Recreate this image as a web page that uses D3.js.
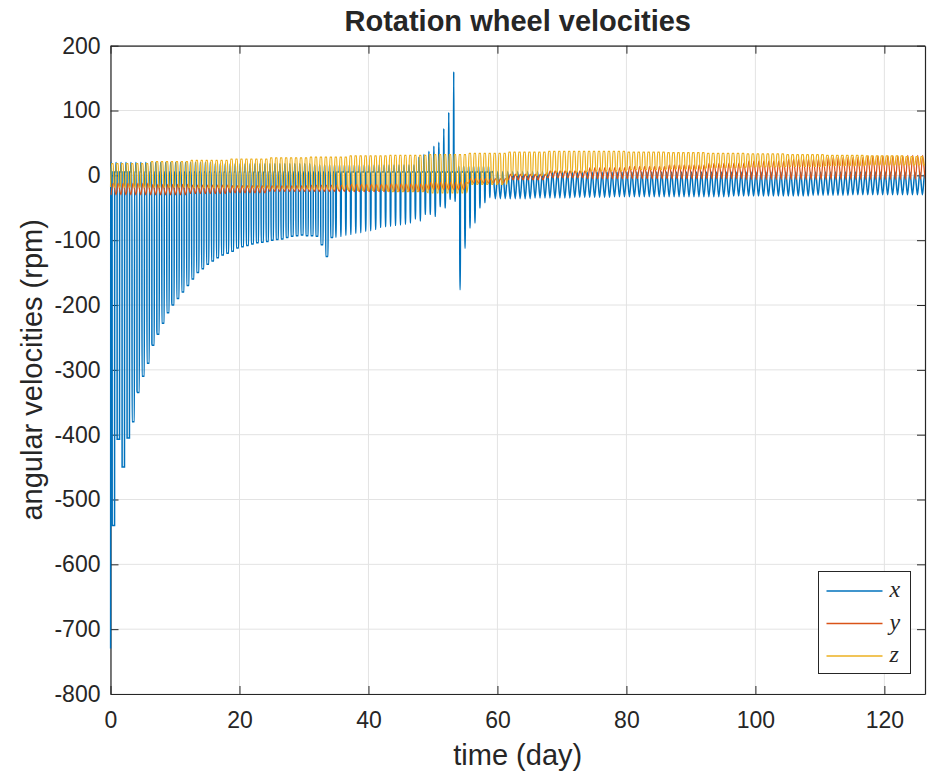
<!DOCTYPE html>
<html>
<head>
<meta charset="utf-8">
<script src="https://cdn.jsdelivr.net/npm/d3@7"></script>
<style>
  body { margin: 0; background: #fff; }
  svg { display: block; }
  text { font-family: "Liberation Sans", Arial, sans-serif; fill: #262626; }
</style>
</head>
<body>
<svg id="chart" width="928" height="776"></svg>
<script>
// ---- data ----
// the wheel speeds repeat once per orbit (about 0.77 day)
const cycleDays = 0.77;
const nCycles = 165;
const blockSize = 8;          // slow envelopes are given per 8 orbits
const xStart = -730;          // x speed at t = 0
const xBase = 5;              // x resting level between spikes

// x wheel: depth of the downward spike in each orbit (first 77 orbits)
const xSpikeMin = [
  -540, -407, -450, -405, -380, -335, -310, -290, -262, -245,
  -228, -212, -200, -190, -180, -170, -160, -150, -144, -137,
  -132, -127, -123, -120, -117, -112, -110, -108, -106, -104,
  -103, -102, -100, -99, -98, -96, -94, -93, -92, -93,
  -93, -94, -107, -125, -96, -95, -94, -92, -91, -89,
  -88, -86, -85, -83, -80, -79, -78, -77, -76, -75,
  -73, -67, -70, -60, -60, -63, -48, -50, -37, -40,
  -176, -112, -81, -73, -50, -42, -34
];
// x wheel: top of the small bump in each orbit (first 77 orbits)
const xSpikeMax = [
  20, 20, 20, 20, 20, 20, 20, 20, 20, 20,
  20, 20, 20, 20, 20, 20, 20, 20, 20, 20,
  20, 18, 18, 18, 18, 18, 18, 18, 18, 18,
  18, 18, 18, 18, 18, 18, 18, 18, 18, 18,
  18, 16, 16, 16, 16, 16, 16, 16, 16, 16,
  16, 16, 16, 16, 16, 16, 16, 16, 16, 16,
  16, 16, 28, 32, 37, 45, 51, 72, 97, 160,
  14, 14, 14, 14, 14, 14, 14
];
// x wheel after day ~59: smooth swing, per block of 8 orbits
const xSineLo = [-36, -35, -34, -33, -33, -33, -32, -32, -31, -30, -30, -29];
const xSineHi = [6, 6, 5, 5, 5, 5, 5, 5, 5, 5, 5, 5];

// y and z wheels, low / high of the swing per block of 8 orbits
const yLo = [-30, -30, -28, -27, -25, -25, -25, -25, -22, -12, -7, -4, -5, -5, -5, -5, -6, -6, -6, -6, -6];
const yHi = [-12, -14, -15, -16, -16, -15, -14, -13, -11, -5, 2, 7, 12, 14, 16, 19, 22, 25, 28, 30, 31];
const zLo = [-18, -18, -19, -19, -20, -21, -23, -25, -27, -14, 0, 5, 7, 9, 10, 12, 13, 14, 15, 16, 16];
const zHi = [18, 21, 23, 25, 27, 28, 30, 31, 32, 34, 36, 37, 37, 36, 35, 34, 33, 32, 31, 30, 29];

const xTicks = [0, 20, 40, 60, 80, 100, 120];
const yTicks = [200, 100, 0, -100, -200, -300, -400, -500, -600, -700, -800];
const seriesNames = ['x', 'y', 'z'];
const seriesColors = ['#0072BD', '#D95319', '#EDB120'];
const seriesWidths = [1.5, 1.25, 1.25];

// ---- layout ----
const plot = { left: 110.5, right: 925, top: 45.7, bottom: 694 };
const xMax = 126.3;
const svg = d3.select('#chart');

const x = d3.scaleLinear().domain([0, xMax]).range([plot.left, plot.right]);
const y = d3.scaleLinear().domain([-800, 200]).range([plot.bottom, plot.top]);

function blockVal(arr, k, start) {
  return arr[Math.min(arr.length - 1, Math.floor((k - start) / blockSize))];
}

// build the three traces, one orbit at a time
const xPts = [[0, xStart]], yPts = [], zPts = [];
for (let k = 0; k < nCycles; k++) {
  const t0 = k * cycleDays;
  const at = f => t0 + f * cycleDays;
  if (k < xSpikeMin.length) {
    const lo = xSpikeMin[k], hi = xSpikeMax[k];
    const w = k < 45 ? 0.48 : 0.12;
    [[0.05, xBase], [0.12, hi], [0.19, xBase], [0.32, xBase],
     [0.34, lo], [0.34 + w, lo], [0.36 + w, xBase], [0.97, xBase]]
      .forEach(([f, v]) => xPts.push([at(f), v]));
  } else {
    const s = xSpikeMin.length;
    xPts.push([at(0), blockVal(xSineHi, k, s)]);
    xPts.push([at(0.5), blockVal(xSineLo, k, s)]);
  }
  const ylo = blockVal(yLo, k, 0), yhi = blockVal(yHi, k, 0);
  yPts.push([at(0.1), ylo], [at(0.55), yhi]);
  const zlo = blockVal(zLo, k, 0), zhi = blockVal(zHi, k, 0);
  zPts.push([at(0), zlo], [at(0.2), zhi], [at(0.55), zhi], [at(0.72), zlo]);
}

// ---- grid ----
const grid = svg.append('g').attr('stroke', '#e3e3e3').attr('stroke-width', 1);
grid.selectAll('.gx').data(xTicks).enter().append('line')
  .attr('x1', d => x(d)).attr('x2', d => x(d))
  .attr('y1', plot.top).attr('y2', plot.bottom);
grid.selectAll('.gy').data(yTicks).enter().append('line')
  .attr('x1', plot.left).attr('x2', plot.right)
  .attr('y1', d => y(d)).attr('y2', d => y(d));

// ---- axes (ticks inside, box on) ----
const axisColor = '#262626';
const fmt = d => String(d);   // plain hyphen for negatives, as in the picture
function styleAxis(g) {
  g.selectAll('path, line').attr('stroke', axisColor);
  g.selectAll('text').style('font-size', '23px').attr('fill', axisColor);
}
svg.append('g').attr('transform', `translate(0,${plot.bottom})`)
  .call(d3.axisBottom(x).tickValues(xTicks).tickSize(-8).tickSizeOuter(0).tickPadding(18).tickFormat(fmt))
  .call(styleAxis);
svg.append('g').attr('transform', `translate(0,${plot.top})`)
  .call(d3.axisTop(x).tickValues(xTicks).tickSize(-8).tickSizeOuter(0).tickFormat(''))
  .call(styleAxis);
svg.append('g').attr('transform', `translate(${plot.left},0)`)
  .call(d3.axisLeft(y).tickValues(yTicks).tickSize(-8).tickSizeOuter(0).tickPadding(10).tickFormat(fmt))
  .call(styleAxis);
svg.append('g').attr('transform', `translate(${plot.right},0)`)
  .call(d3.axisRight(y).tickValues(yTicks).tickSize(-8).tickSizeOuter(0).tickFormat(''))
  .call(styleAxis);
svg.selectAll('.domain').attr('stroke-width', 1.2);

// ---- traces (drawn over the box, as the picture shows) ----
svg.append('clipPath').attr('id', 'clip').append('rect')
  .attr('x', plot.left - 1).attr('y', plot.top)
  .attr('width', plot.right - plot.left + 1).attr('height', plot.bottom - plot.top);

const line = d3.line()
  .x(d => x(d[0])).y(d => y(d[1]))
  .curve(d3.curveMonotoneX);

const traces = svg.append('g').attr('clip-path', 'url(#clip)');
[xPts, yPts, zPts].forEach((pts, i) => {
  traces.append('path')
    .attr('d', line(pts))
    .attr('fill', 'none')
    .attr('stroke', seriesColors[i])
    .attr('stroke-width', seriesWidths[i]);
});

// ---- labels ----
const midX = (plot.left + plot.right) / 2;
svg.append('text').attr('x', midX).attr('y', 31)
  .attr('text-anchor', 'middle').style('font-size', '29px').style('font-weight', 'bold')
  .attr('fill', '#000').text('Rotation wheel velocities');
svg.append('text').attr('x', midX).attr('y', 765)
  .attr('text-anchor', 'middle').style('font-size', '29px').text('time (day)');
svg.append('text')
  .attr('transform', `translate(42,${(plot.top + plot.bottom) / 2}) rotate(-90)`)
  .attr('text-anchor', 'middle').style('font-size', '29px').text('angular velocities (rpm)');

// ---- legend ----
const lg = svg.append('g').attr('transform', 'translate(818.5,571.5)');
lg.append('rect').attr('width', 92).attr('height', 102)
  .attr('fill', '#fff').attr('stroke', axisColor).attr('stroke-width', 1);
seriesNames.forEach((name, i) => {
  const ly = 19.5 + i * 32.5;
  lg.append('line').attr('x1', 8).attr('x2', 64).attr('y1', ly).attr('y2', ly)
    .attr('stroke', seriesColors[i]).attr('stroke-width', 1.5);
  lg.append('text').attr('x', 71).attr('y', ly + 6)
    .style('font-family', '"Liberation Serif", "DejaVu Serif", serif')
    .style('font-style', 'italic').style('font-size', '24px')
    .attr('fill', '#000').text(name);
});
</script>
</body>
</html>
